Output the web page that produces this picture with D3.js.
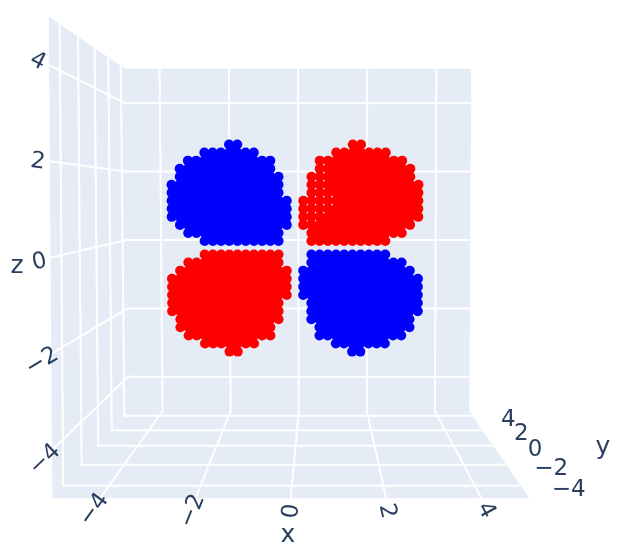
<!DOCTYPE html>
<html><head><meta charset="utf-8">
<script src="https://cdn.jsdelivr.net/npm/d3@7"></script>
<style>html,body{margin:0;padding:0;background:#fff}svg{display:block;filter:blur(0.45px)}text{font-family:"DejaVu Sans";fill:#2a3f5f}</style>
</head><body><svg id="c" width="633" height="551"></svg>
<script>
// ---- data ----
const xTicks = [-4,-2,0,2,4];
const yTicks = [-4,-2,0,2,4];
const zTicks = [-4,-2,0,2,4];
const axisRange = [-5,5];
// lobe cross-section: rows move away from the z=0 plane; each row spans x-columns first..last from the x=0 plane
const upperZ = [0.185,0.381,0.577,0.773,0.969,1.165,1.361,1.557,1.753,1.949,2.145,2.341,2.537];
const lowerZ = [-0.145,-0.343,-0.54,-0.738,-0.935,-1.133,-1.331,-1.528,-1.726,-1.923,-2.121,-2.319,-2.516];
const rowFirst = [2,2,1,1,1,1,2,2,2,3,3,5,7];
const rowLast  = [11,13,14,15,15,15,15,15,14,14,13,11,8];
const columnStep = 0.2;
const planeY = -0.8;
const blueLobes = [[-1,1],[1,-1]];
const redLobes  = [[1,1],[-1,-1]];
const redGaps = [[2.5,7.5],[3.5,7.5],[2.5,6.5],[3.5,6.5],[2.5,5.5],[3.5,5.5],[4.5,5.5],[1.5,4.5],[2.5,4.5],[3.5,4.5],[4.5,4.5],[1.5,3.5],[2.5,3.5],[3.5,3.5],[1.5,2.5],[2.5,2.5],[3.5,9.5],[3.5,8.5]];

// ---- scales of the perspective box ----
const xBackTop = d3.scaleLinear().domain(axisRange).range([125,471]);
const xBackBot = d3.scaleLinear().domain(axisRange).range([128.5,469]);
const xFrontTop = d3.scaleLinear().domain(axisRange).range([49,535]);
const xFrontBot = d3.scaleLinear().domain(axisRange).range([52.6,529]);
const zBack = d3.scaleLinear().domain(axisRange).range([411,69]);
const zFront = d3.scaleLinear().domain(axisRange).range([498,17]);
const depth = d3.scaleLinear().domain([-5,-4,-2,0,2,4,5]).range([1,.86,.618,.40,.22,.055,0]);
const zUnit = d3.scaleLinear().domain(axisRange).range([0,1]);
const lerp = d3.interpolateNumber;
function project(x,y,z){
  const t = depth(y), u = zUnit(z);
  const back = lerp(xBackBot(x),xBackTop(x))(u), front = lerp(xFrontBot(x),xFrontTop(x))(u);
  return [lerp(back,front)(t), lerp(zBack(z),zFront(z))(t)];
}
const [lo,hi] = axisRange;
const svg = d3.select('#c');
const line = d3.line();

// ---- walls ----
const walls = [
  [[lo,hi,lo],[hi,hi,lo],[hi,hi,hi],[lo,hi,hi]],
  [[lo,lo,lo],[lo,hi,lo],[lo,hi,hi],[lo,lo,hi]],
  [[lo,lo,lo],[hi,lo,lo],[hi,hi,lo],[lo,hi,lo]]
];
svg.selectAll('path.wall').data(walls).join('path').attr('class','wall')
  .attr('d',w=>line.curve(d3.curveLinearClosed)(w.map(p=>project(...p))))
  .attr('fill','#E5ECF6').attr('stroke','#E5ECF6').attr('stroke-width',.5);
line.curve(d3.curveLinear);

// ---- grid lines ----
const grid = [];
xTicks.forEach(x=>{grid.push([[x,hi,hi],[x,hi,lo],[x,lo,lo]]);});
zTicks.forEach(z=>{grid.push([[hi,hi,z],[lo,hi,z],[lo,lo,z]]);});
yTicks.forEach(y=>{grid.push([[lo,y,hi],[lo,y,lo],[hi,y,lo]]);});
svg.selectAll('path.grid').data(grid).join('path').attr('class','grid')
  .attr('d',g=>line(g.map(p=>project(...p))))
  .attr('fill','none').attr('stroke','#fff').attr('stroke-width',2);

// ---- lobes ----
const xs = k=>k*columnStep;
const rowZ = (rows,r)=>{const i=Math.floor(r),f=r-i;return f? rows[i]+(rows[i+1]-rows[i])*f : rows[i];};
function lobePoints(sx,sz,gaps){
  const rows = sz>0?upperZ:lowerZ, pts=[];
  rows.forEach((z,i)=>{
    for(let k=rowFirst[i];k<=rowLast[i];k++) pts.push([sx*xs(k),planeY,z]);
  });
  for(let i=0;i<rows.length-1;i++){
    const a=Math.max(rowFirst[i],rowFirst[i+1]), b=Math.min(rowLast[i],rowLast[i+1]);
    for(let k=a;k<b;k++){
      if(gaps.some(g=>g[0]===k+.5&&g[1]===i+.5)) continue;
      pts.push([sx*xs(k+.5),planeY,rowZ(rows,i+.5)]);
    }
  }
  return pts;
}
const series = [
  {color:'#0000ff',pts:blueLobes.flatMap(l=>lobePoints(l[0],l[1],[]))},
  {color:'#ff0000',pts:redLobes.flatMap(l=>lobePoints(l[0],l[1],l[0]>0?redGaps:[]))}
];
series.forEach(s=>{
  svg.append('g').selectAll('circle').data(s.pts).join('circle')
    .attr('cx',p=>project(...p)[0]).attr('cy',p=>project(...p)[1])
    .attr('r',5).attr('fill',s.color);
});

// ---- tick labels: turned along their grid line, set beyond its end ----
const fmt = v=>v<0?'\u2212'+(-v):String(v);
function label(v,end,inner,off,shift){
  const a=project(...inner), b=project(...end);
  let ang=Math.atan2(b[1]-a[1],b[0]-a[0])*180/Math.PI;
  const dx=b[0]-a[0], dy=b[1]-a[1], n=Math.hypot(dx,dy);
  const px=b[0]+dx/n*off+(shift?shift[0]:0), py=b[1]+dy/n*off+(shift?shift[1]:0);
  if(ang>90) ang-=180; if(ang<-90) ang+=180;
  svg.append('text').attr('class','tick').attr('text-anchor','middle').attr('dominant-baseline','central')
    .attr('transform',`translate(${px},${py}) rotate(${ang})`)
    .attr('font-size',23).text(fmt(v));
}
const yLabelOffset = d3.scaleLinear().domain([4,-4]).range([36,48]);
zTicks.forEach(z=>label(z,[lo,lo,z],[lo,hi,z],12));
xTicks.forEach(x=>label(x,[x,lo,lo],[x,hi,lo],13));
yTicks.forEach(y=>label(y,[hi,y,lo],[lo,y,lo],yLabelOffset(y),[0,2]));

// ---- axis titles ----
[['x',288,533],['y',603,445],['z',17,264]].forEach(t=>{
  svg.append('text').attr('x',t[1]).attr('y',t[2]).attr('text-anchor','middle').attr('dominant-baseline','central')
    .attr('font-size',25).text(t[0]);
});
</script></body></html>
